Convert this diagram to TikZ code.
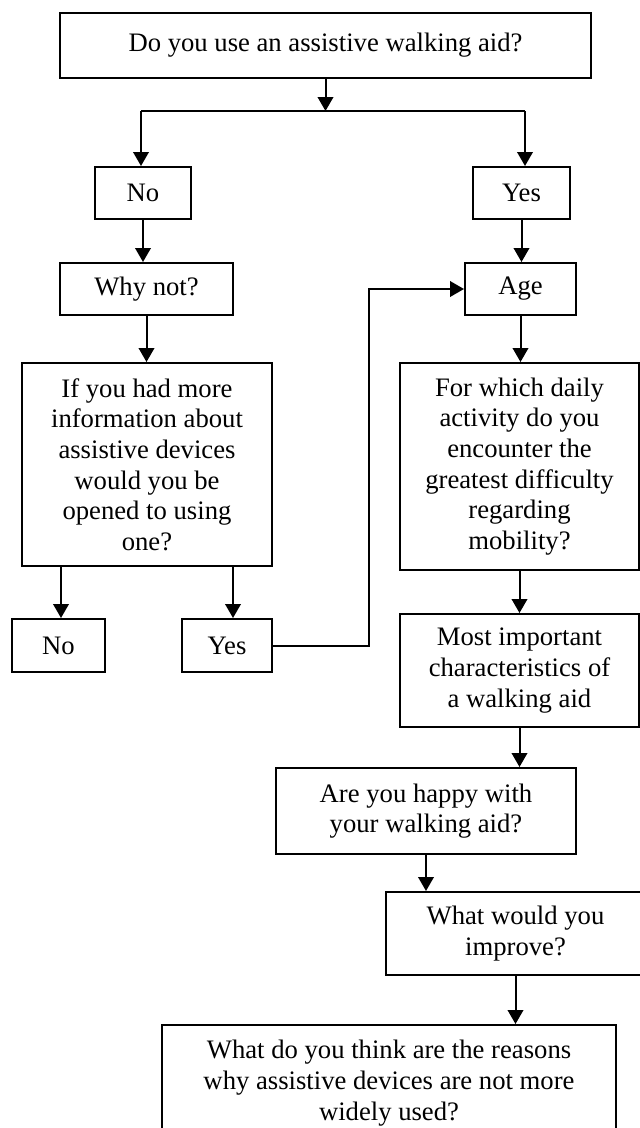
\documentclass[tikz,border=0pt]{standalone}
\usepackage{fontspec}
\setmainfont{Liberation Serif}
\usetikzlibrary{arrows.meta}
\tikzset{
  box/.style={draw, line width=0.9pt, inner sep=0pt, align=center, font=\fontsize{12}{13.8}\selectfont},
  conn/.style={line width=0.9pt},
  arr/.style={line width=0.9pt, -{Triangle[length=6.3pt,width=7pt]}}
}
\newcommand\qbox[6]{\node[box, minimum width={(#4-#2)*0.45pt}, minimum height={(#5-#3)*0.45pt}] (#1) at ({(#2+#4)/2},{(#3+#5)/2}) {#6};}
\begin{document}
\begin{tikzpicture}[x=0.45pt, y=-0.45pt]
\useasboundingbox (0,0) rectangle (640,1128);
\clip (0,0) rectangle (640,1128);
\qbox{q1}{60}{13}{591}{78}{Do you use an assistive walking aid?}
\qbox{no1}{95}{167}{191}{219}{No}
\qbox{yes1}{473}{167}{570}{219}{Yes}
\qbox{whynot}{60}{263}{233}{315}{Why not?}
\qbox{age}{465}{263}{576}{315}{Age}
\qbox{ifbox}{22}{363}{272}{566}{If you had more\\information about\\assistive devices\\would you be\\opened to using\\one?}
\qbox{no2}{12}{619}{105}{672}{No}
\qbox{yes2}{182}{619}{272}{672}{Yes}
\qbox{forwhich}{400}{363}{639}{570}{For which daily\\activity do you\\encounter the\\greatest difficulty\\regarding\\mobility?}
\qbox{most}{400}{614}{639}{727}{Most important\\characteristics of\\a walking aid}
\qbox{happy}{276}{768}{576}{854}{Are you happy with\\your walking aid?}
\qbox{what}{386}{892}{645}{975}{What would you\\improve?}
\qbox{final}{162}{1025}{616}{1141}{What do you think are the reasons\\why assistive devices are not more\\widely used?}
\coordinate (j) at (326,111);
\coordinate (jl) at (141,111);
\coordinate (jr) at (525,111);
\coordinate (a1) at (61,566);
\coordinate (a2) at (233,566);
\coordinate (b) at (369,0);
\draw[arr] (q1.south) -- (q1.south |- j);
\draw[conn] (jl) -- (jr);
\draw[arr] (jl) -- (jl |- no1.north);
\draw[arr] (jr) -- (jr |- yes1.north);
\draw[arr] (no1.south) -- (no1.south |- whynot.north);
\draw[arr] (yes1.south) -- (yes1.south |- age.north);
\draw[arr] (whynot.south) -- (whynot.south |- ifbox.north);
\draw[arr] (age.south) -- (age.south |- forwhich.north);
\draw[arr] (ifbox.south -| a1) -- (a1 |- no2.north);
\draw[arr] (ifbox.south -| a2) -- (a2 |- yes2.north);
\draw[arr] (yes2.east) -- (yes2.east -| b) |- (age.west);
\draw[arr] (forwhich.south) -- (forwhich.south |- most.north);
\draw[arr] (most.south) -- (most.south |- happy.north);
\draw[arr] (happy.south) -- (happy.south |- what.north);
\draw[arr] (what.south) -- (what.south |- final.north);
\end{tikzpicture}
\end{document}
